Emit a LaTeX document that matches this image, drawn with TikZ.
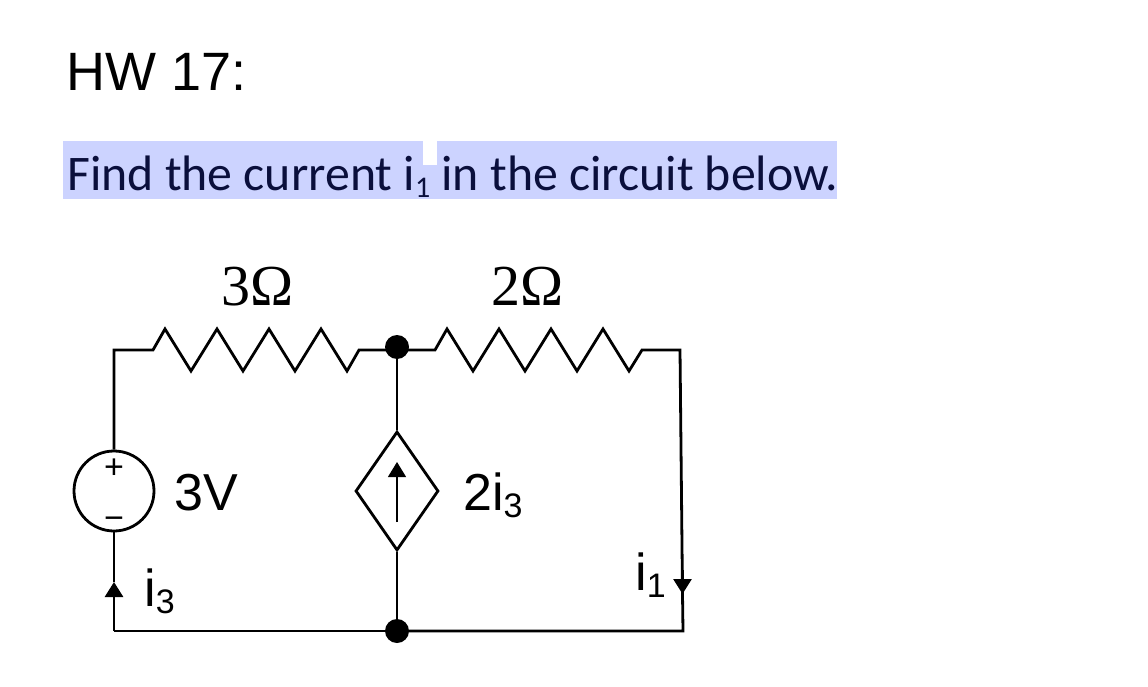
\documentclass[tikz,border=0pt]{standalone}
\usepackage{fontspec}
\setmainfont{Liberation Sans}
\newfontfamily\bodyfont{Carlito}
\newfontfamily\ohmfont{Liberation Serif}
\usetikzlibrary{arrows.meta,shapes.geometric}
\definecolor{hilite}{HTML}{CCD3FF}
\definecolor{navy}{HTML}{0A0F3C}
\tikzset{
wire/.style={draw,line width=2.8pt,line join=miter},
lbl/.style={inner sep=0pt,anchor=base west,font=\fontsize{52}{52}\selectfont},
ohm/.style={inner sep=0pt,anchor=base,font=\ohmfont\fontsize{58}{58}\selectfont},
dot/.style={circle,fill=black,inner sep=0pt,minimum size=24pt},
zigzag/.style={to path={-- ++(12,-21) -- ++(26,42) -- ++(26,-42) -- ++(26,42) -- ++(26,-42) -- ++(26,42) -- ++(26,-42) -- ++(26,42) -- (\tikztotarget)}},
tip/.style={-{Triangle[length=15pt,width=18pt]}}
}
\newcommand{\subsc}[1]{\raisebox{-7pt}{\fontsize{34}{34}\selectfont #1}}
\begin{document}
\begin{tikzpicture}[x=1pt,y=-1pt]
\useasboundingbox (0,0) rectangle (1148,687);

% highlight behind the question
\fill[hilite] (63,141) rectangle (423,199);
\fill[hilite] (437,141) rectangle (837,199);
\fill[hilite] (423,165) rectangle (437,199);

\node[inner sep=0pt,anchor=base west,font=\fontsize{54}{54}\selectfont] (title) at (66,91) {HW 17:};
\node[inner sep=0pt,anchor=base west,text=navy,font=\bodyfont\fontsize{49.8}{50}\selectfont] (question) at (67,190) {Find the current i\raisebox{-8pt}{\fontsize{30}{30}\selectfont 1} in the circuit below.};

\node[circle,draw,line width=2.8pt,inner sep=0pt,minimum size=80pt] (src) at (114,491) {};
\node[diamond,draw,line width=2.8pt,inner sep=0pt,minimum width=83pt,minimum height=119pt] (dep) at (397,491) {};
\node[dot] (top) at (397,347) {};
\node[dot] (bot) at (397,631) {};

\coordinate (tl) at (114,350);
\coordinate (tm) at (397,350);
\coordinate (tr) at (680,350);
\coordinate (bl) at (114,631);
\coordinate (br) at (683,631);
\coordinate (ra) at (153,350);
\coordinate (rb) at (359,350);
\coordinate (rc) at (435,350);
\coordinate (rd) at (642,350);
\coordinate (i3tip) at (114,582);
\coordinate (i1tip) at (682.5,594);
\coordinate (deplo) at (397,522);
\coordinate (dephi) at (397,462);

\path[wire] (src) -- (tl) -- (ra) to[zigzag] (rb) -- (tm);
\path[wire] (tm) -- (rc) to[zigzag] (rd) -- (tr) -- (i1tip);
\path[wire] (top) -- (dep);
\path[wire] (dep) -- (bot);
\path[wire] (bl) -- (bot);
\path[wire] (bot) -- (br) -- (i1tip);
\path[wire,tip] (i1tip |- 0,570) -- (i1tip);
\path[wire] (i3tip) -- (src);
\path[wire,tip] (bl) -- (i3tip);
\draw[line width=1.2pt,tip] (deplo) -- (dephi);

\node[inner sep=0pt,font=\fontsize{34}{34}\selectfont] (plus) at (114,469) {+};
\node[inner sep=0pt,font=\fontsize{34}{34}\selectfont] (minus) at (114,523) {−};

\node[ohm] (r1) at (258,305) {3Ω};
\node[ohm] (r2) at (528,305) {2Ω};
\node[lbl] (v) at (174,510) {3V};
\node[lbl] (i3) at (144,606) {i\subsc{3}};
\node[lbl] (dv) at (463,510) {2i\subsc{3}};
\node[lbl] (i1) at (635,590) {i\subsc{1}};
\end{tikzpicture}
\end{document}
